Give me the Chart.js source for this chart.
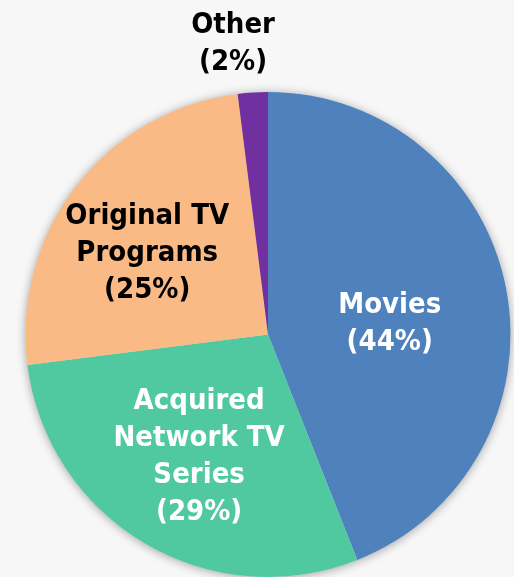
<!DOCTYPE html>
<html>
<head>
<meta charset="utf-8">
<script src="https://cdn.jsdelivr.net/npm/chart.js@4"></script>
<style>
    html, body { margin: 0; padding: 0; background: #f7f7f7; }
    #wrap { width: 514px; height: 577px; }
</style>
</head>
<body>
<div id="wrap"><canvas id="pieChart"></canvas></div>
<script>
const categories = ['Movies', 'Acquired Network TV Series', 'Original TV Programs', 'Other'];
const shares = [44, 29, 25, 2];
const sliceColors = ['#4f81bd', '#51c9a0', '#f9ba85', '#7030a0'];

// label lines, text colour and where the block sits (fractions of the radius from the centre)
const labelSetup = [
    { lines: ['Movies', '(44%)'], color: '#ffffff', dx: 0.502, dy: -0.047 },
    { lines: ['Acquired', 'Network TV', 'Series', '(29%)'], color: '#ffffff', dx: -0.284, dy: 0.502 },
    { lines: ['Original TV', 'Programs', '(25%)'], color: '#000000', dx: -0.498, dy: -0.337 },
    { lines: ['Other', '(2%)'], color: '#000000', dx: -0.144, dy: -1.204 }
];

// soft shadow behind the whole pie
const pieShadow = {
    id: 'pieShadow',
    beforeDatasetsDraw(chart) {
        const arc = chart.getDatasetMeta(0).data[0];
        const c = chart.ctx;
        c.save();
        c.shadowColor = 'rgba(0,0,0,0.35)';
        c.shadowBlur = 10;
        c.shadowOffsetY = 1;
        c.fillStyle = '#dddddd';
        c.beginPath();
        c.arc(arc.x, arc.y, arc.outerRadius, 0, Math.PI * 2);
        c.fill();
        c.restore();
    }
};

const sliceLabels = {
    id: 'sliceLabels',
    afterDatasetsDraw(chart) {
        const arc = chart.getDatasetMeta(0).data[0];
        const r = arc.outerRadius;
        const c = chart.ctx;
        const lineHeight = 37;
        c.save();
        c.font = 'bold 29px "DejaVu Sans Condensed", "DejaVu Sans", sans-serif';
        c.textAlign = 'center';
        c.textBaseline = 'middle';
        labelSetup.forEach(lab => {
            const cx = arc.x + lab.dx * r;
            const cy = arc.y + lab.dy * r;
            const top = cy - (lab.lines.length - 1) * lineHeight / 2;
            c.fillStyle = lab.color;
            lab.lines.forEach((t, i) => c.fillText(t, cx, top + i * lineHeight + 1));
        });
        c.restore();
    }
};

const ctx = document.getElementById('pieChart').getContext('2d');
let pieChart = new Chart(ctx, {
    type: 'pie',
    data: {
        labels: categories,
        datasets: [{
            data: shares,
            backgroundColor: sliceColors,
            borderWidth: 0
        }]
    },
    options: {
        responsive: true,
        maintainAspectRatio: false,
        animation: false,
        layout: { padding: { top: 92, left: 25, right: 3, bottom: 0 } },
        plugins: {
            legend: { display: false },
            tooltip: { enabled: false }
        }
    },
    plugins: [pieShadow, sliceLabels]
});
</script>
</body>
</html>
